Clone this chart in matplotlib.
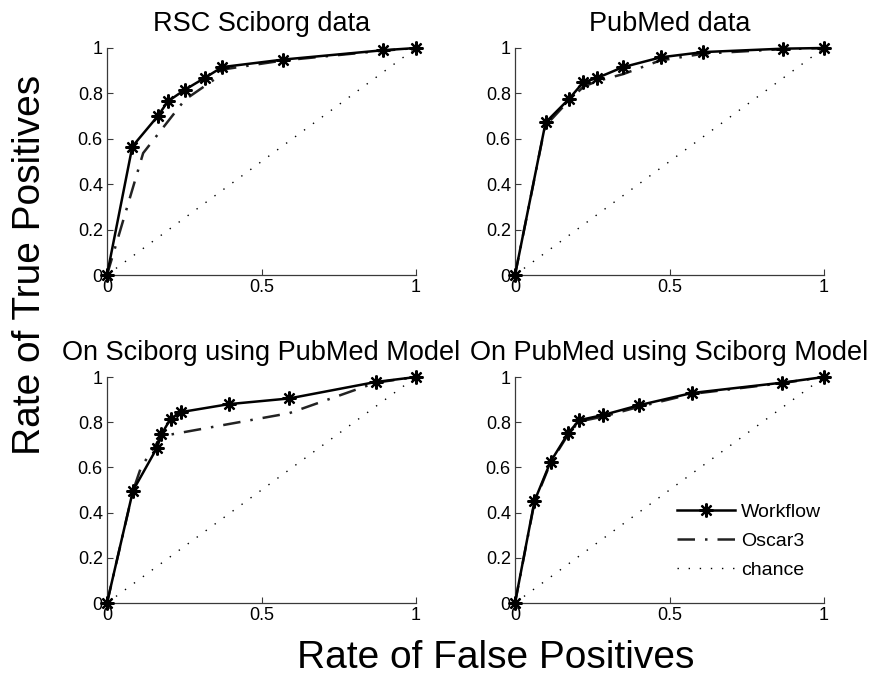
import matplotlib
matplotlib.use("Agg")
import matplotlib.pyplot as plt

plt.rcParams['font.family'] = ['Liberation Sans', 'DejaVu Sans']

titles = ['RSC Sciborg data', 'PubMed data',
          'On Sciborg using PubMed Model', 'On PubMed using Sciborg Model']

# workflow curves
wf_x = [
    [0, 0.082, 0.165, 0.197, 0.252, 0.316, 0.373, 0.570, 0.892, 1.0],
    [0, 0.099, 0.175, 0.221, 0.266, 0.348, 0.472, 0.609, 0.866, 1.0],
    [0, 0.084, 0.162, 0.176, 0.206, 0.241, 0.395, 0.589, 0.870, 1.0],
    [0, 0.063, 0.115, 0.173, 0.208, 0.286, 0.401, 0.572, 0.865, 1.0],
]
wf_y = [
    [0, 0.566, 0.701, 0.765, 0.816, 0.868, 0.916, 0.949, 0.990, 1.0],
    [0, 0.672, 0.776, 0.849, 0.868, 0.915, 0.959, 0.982, 0.997, 1.0],
    [0, 0.497, 0.687, 0.746, 0.816, 0.845, 0.880, 0.905, 0.978, 1.0],
    [0, 0.451, 0.625, 0.753, 0.809, 0.832, 0.875, 0.929, 0.975, 1.0],
]

# oscar3 curves
os_x = [
    [0, 0.117, 0.252, 0.349, 0.373, 0.570, 0.892, 1.0],
    [0, 0.097, 0.172, 0.222, 0.268, 0.350, 0.470, 0.610, 0.866, 1.0],
    [0, 0.085, 0.110, 0.176, 0.590, 0.870, 1.0],
    [0, 0.063, 0.115, 0.173, 0.208, 0.286, 0.401, 0.572, 0.865, 1.0],
]
os_y = [
    [0, 0.537, 0.772, 0.863, 0.905, 0.945, 0.988, 1.0],
    [0, 0.655, 0.765, 0.830, 0.855, 0.885, 0.945, 0.975, 0.995, 1.0],
    [0, 0.500, 0.600, 0.738, 0.840, 0.975, 1.0],
    [0, 0.445, 0.620, 0.748, 0.803, 0.825, 0.868, 0.925, 0.973, 1.0],
]

chance = [0, 1]

fig = plt.figure(figsize=(8.71, 6.77), dpi=100)

W = 871.0
H = 677.0
lefts = [107, 515, 107, 515]
tops = [48, 48, 377, 377]
bottoms = [275, 275, 603, 603]

axes = []
for i in range(4):
    ax = fig.add_axes([lefts[i] / W, 1 - bottoms[i] / H,
                       309 / W, (bottoms[i] - tops[i]) / H])
    ax.plot(chance, chance, color='black', linestyle=(0, (1, 7)), linewidth=1,
            label='chance', zorder=1)
    ax.plot(os_x[i], os_y[i], color='#222222', linestyle=(0, (7, 4, 1, 4)),
            linewidth=1.8, label='Oscar3', zorder=2)
    ax.plot(wf_x[i], wf_y[i], color='black', linestyle='-', linewidth=1.8,
            marker=(8, 2, 0), markersize=10, markeredgewidth=1.6,
            label='Workflow', clip_on=False, zorder=3)
    ax.set_xlim(0, 1)
    ax.set_ylim(0, 1)
    ax.set_xticks([0, 0.5, 1])
    ax.set_xticklabels(['0', '0.5', '1'])
    ax.set_yticks([0, 0.2, 0.4, 0.6, 0.8, 1])
    ax.set_yticklabels(['0', '0.2', '0.4', '0.6', '0.8', '1'])
    ax.spines['top'].set_visible(False)
    ax.spines['right'].set_visible(False)
    for s in ['left', 'bottom']:
        ax.spines[s].set_color('#3a3a3a')
        ax.spines[s].set_linewidth(0.9)
    ax.tick_params(direction='in', length=4, width=0.8, color='#3a3a3a',
                   labelsize=13, pad=3)
    ax.set_title(titles[i], fontsize=19.5, pad=12)
    axes.append(ax)

h, l = axes[3].get_legend_handles_labels()
order = [2, 1, 0]
fig.legend([h[k] for k in order], [l[k] for k in order],
           loc='center left', bbox_to_anchor=(677 / W, 1 - 541 / H),
           frameon=False, fontsize=14, handlelength=3.0, handletextpad=0.3,
           labelspacing=0.6, borderpad=0, borderaxespad=0)

fig.text(496 / W, 9 / H, 'Rate of False Positives', fontsize=28,
         ha='center', va='baseline')
fig.text(30 / W, 1 - 265 / H, 'Rate of True Positives', fontsize=28,
         ha='center', va='center', rotation=90)

fig.savefig('out.png', dpi=100)
